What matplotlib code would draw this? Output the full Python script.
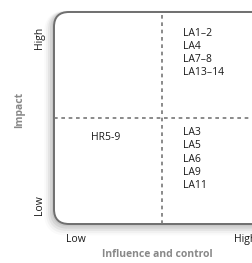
import matplotlib.pyplot as plt
from matplotlib.patches import FancyBboxPatch

plt.rcParams['font.family'] = ['Open Sans', 'DejaVu Sans']

# quadrant contents
top_right = ["LA1\u20132", "LA4", "LA7\u20138", "LA13\u201314"]
bottom_right = ["LA3", "LA5", "LA6", "LA9", "LA11"]
bottom_left = ["HR5-9"]
levels = ["Low", "High"]
x_title = "Influence and control"
y_title = "Impact"

W, H = 253, 263
fig = plt.figure(figsize=(W / 100, H / 100), dpi=100)
# box spans beyond the right edge (clipped like the original)
left, right, top, bottom = 54, 270, 12, 224
ax = fig.add_axes([left / W, 1 - bottom / H, (right - left) / W, (bottom - top) / H])
ax.set_xlim(0, 1)
ax.set_ylim(0, 1)
ax.axis('off')

# soft shadow
for i, a in enumerate([0.07, 0.06, 0.05, 0.035, 0.02]):
    d = 0.004 * (i + 1)
    sh = FancyBboxPatch((0 - d * 0.8, 0 - d * 1.2), 1, 1,
                        boxstyle="round,pad=0,rounding_size=0.07",
                        fc='none', ec='black',
                        lw=2 + i * 1.8, alpha=a, transform=ax.transAxes,
                        clip_on=False)
    ax.add_patch(sh)

box = FancyBboxPatch((0, 0), 1, 1, boxstyle="round,pad=0,rounding_size=0.07",
                     fc='white', ec='#6f6f6f', lw=1.4,
                     transform=ax.transAxes, clip_on=False, zorder=2)
ax.add_patch(box)

ax.axvline(0.5, color='#777777', lw=1.2, ls=(0, (2.2, 2.2)), zorder=3)
ax.axhline(0.5, color='#777777', lw=1.2, ls=(0, (2.2, 2.2)), zorder=3)

fs = 7.5
step = 0.062
for i, s in enumerate(top_right):
    ax.text(0.597, 0.90 - i * step, s, fontsize=fs, va='center', ha='left',
            color='#1a1a1a', zorder=4)
for i, s in enumerate(bottom_right):
    ax.text(0.597, 0.43 - i * step, s, fontsize=fs, va='center', ha='left',
            color='#1a1a1a', zorder=4)
for i, s in enumerate(bottom_left):
    ax.text(0.24, 0.41 - i * step, s, fontsize=fs, va='center', ha='center',
            color='#1a1a1a', zorder=4)

# axis level labels
ax.text(-0.065, 0.09, levels[0], rotation=90, fontsize=fs, ha='center', va='center',
        color='#1a1a1a')
ax.text(-0.065, 0.877, levels[1], rotation=90, fontsize=fs, ha='center', va='center',
        color='#1a1a1a')
ax.text(0.102, -0.071, levels[0], fontsize=fs, ha='center', va='center', color='#1a1a1a')
ax.text(0.884, -0.071, levels[1], fontsize=fs, ha='center', va='center', color='#1a1a1a')

ax.text(0.48, -0.142, x_title, fontsize=fs, fontweight='bold', ha='center',
        va='center', color='#888888')
ax.text(-0.157, 0.538, y_title, rotation=90, fontsize=fs, fontweight='bold',
        ha='center', va='center', color='#888888')

fig.savefig('out.png', dpi=100)
